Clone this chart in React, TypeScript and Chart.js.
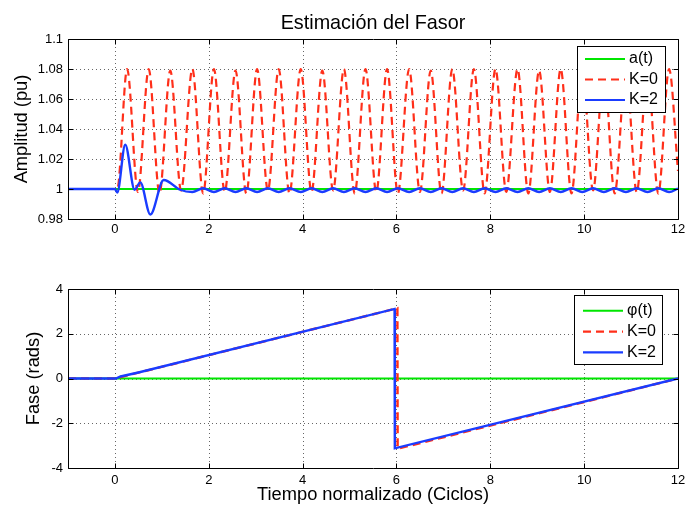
import React, { useEffect, useRef } from "react";
import { Chart, registerables } from "chart.js";

Chart.register(...registerables);

const FONT = "'Liberation Sans', Arial, Helvetica, sans-serif";
const GREEN = "#00e600";
const RED = "#ff2f1a";
const BLUE = "#1a3cff";

// ---- tick values / labels ----
const timeTicks = [0, 2, 4, 6, 8, 10, 12];
const ampTicks = [0.98, 1.0, 1.02, 1.04, 1.06, 1.08, 1.1];
const ampTickLabels = ["0.98", "1", "1.02", "1.04", "1.06", "1.08", "1.1"];
const phaseTicks = [-4, -2, 0, 2, 4];
const phaseTickLabels = ["-4", "-2", "0", "2", "4"];

const ampLegend = ["a(t)", "K=0", "K=2"];
const phaseLegend = ["φ(t)", "K=0", "K=2"];

// ---- amplitude (top) ----
const ampTrueT = [-1, 12];
const ampTrueV = [1, 1];

const ampK0T = [
  -1, 0.05, 0.26, 0.49, 0.72, 0.95, 1.18, 1.41, 1.65, 1.88, 2.11, 2.34, 2.57, 2.8,
  3.03, 3.26, 3.49, 3.72, 3.96, 4.19, 4.42, 4.65, 4.88, 5.11, 5.34, 5.57, 5.8,
  6.03, 6.27, 6.5, 6.73, 6.96, 7.19, 7.42, 7.65, 7.88, 8.11, 8.34, 8.58, 8.81,
  9.04, 9.27, 9.5, 9.73, 9.96, 10.19, 10.42, 10.65, 10.89, 11.12, 11.35, 11.58,
  11.81, 12.0,
];
const ampK0V = [
  1, 1, 1.08, 0.998, 1.08, 0.997, 1.079, 0.999, 1.08, 0.997, 1.08, 0.998, 1.079, 0.997,
  1.08, 0.999, 1.08, 0.997, 1.08, 0.998, 1.079, 0.999, 1.08, 0.997, 1.08, 0.998, 1.08,
  0.997, 1.08, 0.998, 1.079, 0.997, 1.08, 0.999, 1.08, 0.997, 1.08, 0.998, 1.08, 0.997,
  1.079, 0.998, 1.08, 0.997, 1.08, 0.999, 1.08, 0.997, 1.08, 0.998, 1.079, 0.997,
  1.08, 1.012,
];

const ampK2T = [
  -1, 0.0, 0.05, 0.22, 0.42, 0.54, 0.755, 1.04, 1.39,
  1.65, 1.88, 2.11, 2.34, 2.57, 2.8, 3.03, 3.26, 3.49, 3.72, 3.96, 4.19, 4.42, 4.65,
  4.88, 5.11, 5.34, 5.57, 5.8, 6.03, 6.27, 6.5, 6.73, 6.96, 7.19, 7.42, 7.65, 7.88,
  8.11, 8.34, 8.58, 8.81, 9.04, 9.27, 9.5, 9.73, 9.96, 10.19, 10.42, 10.65, 10.89,
  11.12, 11.35, 11.58, 11.81, 12.0,
];
const ampK2V = [
  1, 1, 0.9977, 1.0295, 0.9995, 1.0044, 0.983, 1.006, 0.9995,
  0.998, 1.0005, 0.998, 1.0005, 0.998, 1.0005, 0.998, 1.0005, 0.998, 1.0005, 0.998, 1.0005, 0.998, 1.0005,
  0.998, 1.0005, 0.998, 1.0005, 0.998, 1.0005, 0.998, 1.0005, 0.998, 1.0005, 0.998, 1.0005, 0.998, 1.0005,
  0.998, 1.0005, 0.998, 1.0005, 0.998, 1.0005, 0.998, 1.0005, 0.998, 1.0005, 0.998, 1.0005, 0.998,
  1.0005, 0.998, 1.0005, 0.998, 1.0003,
];

// ---- phase (bottom) ----
const phaseTrueT = [-1, 12];
const phaseTrueV = [0, 0];
const phaseK0T = [-1, 0, 6.02, 6.025, 12];
const phaseK0V = [0, 0, 3.14, -3.14, 0];
const phaseK2T = [-1, 0.02, 0.12, 0.5, 5.96, 5.965, 12];
const phaseK2V = [0, 0, 0.09, 0.27, 3.11, -3.12, 0];

const zip = (t: number[], v: number[]) => t.map((x, i) => ({ x, y: v[i] }));

type Box = { x1: number; y1: number; x2: number; y2: number; lx1: number; lx2: number; tx: number; rows: number[] };

const legendStyles = [
  { color: GREEN, dash: [] as number[], width: 2 },
  { color: RED, dash: [8, 5], width: 2.2 },
  { color: BLUE, dash: [] as number[], width: 2.2 },
];

function framePlugin(xt: number[], yt: number[], labels: string[], box: Box) {
  return {
    id: "frame",
    beforeDatasetsDraw(chart: any) {
      const { ctx, chartArea: a } = chart;
      const sx = chart.scales.x;
      const sy = chart.scales.y;
      ctx.save();
      ctx.strokeStyle = "rgba(0,0,0,0.6)";
      ctx.lineWidth = 1;
      ctx.setLineDash([1, 3]);
      ctx.beginPath();
      xt.forEach((v) => {
        const p = Math.round(sx.getPixelForValue(v)) + 0.5;
        ctx.moveTo(p, a.top);
        ctx.lineTo(p, a.bottom);
      });
      yt.forEach((v) => {
        const p = Math.round(sy.getPixelForValue(v)) + 0.5;
        ctx.moveTo(a.left, p);
        ctx.lineTo(a.right, p);
      });
      ctx.stroke();
      ctx.restore();
    },
    afterDatasetsDraw(chart: any) {
      const { ctx, chartArea: a } = chart;
      const sx = chart.scales.x;
      const sy = chart.scales.y;
      const L = Math.round(a.left) + 0.5;
      const R = Math.round(a.right) + 0.5;
      const T = Math.round(a.top) + 0.5;
      const B = Math.round(a.bottom) + 0.5;
      const tl = 5;
      ctx.save();
      ctx.strokeStyle = "#000";
      ctx.lineWidth = 1;
      ctx.setLineDash([]);
      ctx.beginPath();
      ctx.rect(L, T, R - L, B - T);
      xt.forEach((v) => {
        const p = Math.round(sx.getPixelForValue(v)) + 0.5;
        ctx.moveTo(p, B);
        ctx.lineTo(p, B - tl);
        ctx.moveTo(p, T);
        ctx.lineTo(p, T + tl);
      });
      yt.forEach((v) => {
        const p = Math.round(sy.getPixelForValue(v)) + 0.5;
        ctx.moveTo(L, p);
        ctx.lineTo(L + tl, p);
        ctx.moveTo(R, p);
        ctx.lineTo(R - tl, p);
      });
      ctx.stroke();
      ctx.restore();
    },
    afterDraw(chart: any) {
      const { ctx } = chart;
      ctx.save();
      ctx.fillStyle = "#fff";
      ctx.fillRect(box.x1, box.y1, box.x2 - box.x1, box.y2 - box.y1);
      ctx.strokeStyle = "#000";
      ctx.lineWidth = 1;
      ctx.setLineDash([]);
      ctx.strokeRect(Math.round(box.x1) + 0.5, Math.round(box.y1) + 0.5, Math.round(box.x2 - box.x1), Math.round(box.y2 - box.y1));
      labels.forEach((lab, i) => {
        const st = legendStyles[i];
        const y = box.rows[i];
        ctx.beginPath();
        ctx.strokeStyle = st.color;
        ctx.lineWidth = st.width;
        ctx.setLineDash(st.dash);
        ctx.moveTo(box.lx1, y);
        ctx.lineTo(box.lx2, y);
        ctx.stroke();
        ctx.setLineDash([]);
        ctx.fillStyle = "#000";
        ctx.font = `16px ${FONT}`;
        ctx.textBaseline = "middle";
        ctx.textAlign = "left";
        ctx.fillText(lab, box.tx, y);
      });
      ctx.restore();
    },
  };
}

function xScale(labelPad: number, height: number, title?: any) {
  return {
    type: "linear",
    min: -1,
    max: 12,
    afterBuildTicks: (s: any) => {
      s.ticks = timeTicks.map((v) => ({ value: v }));
    },
    afterFit: (s: any) => {
      s.height = height;
      s.paddingLeft = 0;
      s.paddingRight = 0;
      s.paddingTop = 0;
      s.paddingBottom = 0;
    },
    ticks: {
      autoSkip: false,
      maxRotation: 0,
      minRotation: 0,
      padding: labelPad,
      color: "#000",
      font: { family: FONT, size: 13 },
      callback: (v: number) => String(v),
    },
    grid: { display: false, drawTicks: false },
    border: { display: false },
    title: title || { display: false },
  };
}

function yScale(ticks: number[], tickLabels: string[], min: number, max: number, title: any) {
  return {
    type: "linear",
    min,
    max,
    afterBuildTicks: (s: any) => {
      s.ticks = ticks.map((v) => ({ value: v }));
    },
    afterFit: (s: any) => {
      s.width = 68;
      s.paddingLeft = 0;
      s.paddingRight = 0;
      s.paddingTop = 0;
      s.paddingBottom = 0;
    },
    ticks: {
      autoSkip: false,
      padding: 5,
      color: "#000",
      font: { family: FONT, size: 13 },
      callback: (v: number) => {
        const i = ticks.indexOf(v);
        return i >= 0 ? tickLabels[i] : "";
      },
    },
    grid: { display: false, drawTicks: false },
    border: { display: false },
    title,
  };
}

function ds(label: string, data: any[], color: string, dash: number[], width: number, order: number, smooth: boolean) {
  return {
    label,
    data,
    borderColor: color,
    backgroundColor: color,
    borderWidth: width,
    borderDash: dash,
    pointRadius: 0,
    fill: false,
    order,
    tension: 0,
    cubicInterpolationMode: smooth ? "monotone" : "default",
  };
}

export default function App() {
  const topRef = useRef<HTMLCanvasElement>(null);
  const botRef = useRef<HTMLCanvasElement>(null);

  useEffect(() => {
    const top = new Chart(topRef.current as HTMLCanvasElement, {
      type: "line",
      data: {
        datasets: [
          ds(ampLegend[0], zip(ampTrueT, ampTrueV), GREEN, [], 2, 2, false),
          ds(ampLegend[1], zip(ampK0T, ampK0V), RED, [8, 5], 2.2, 1, true),
          ds(ampLegend[2], zip(ampK2T, ampK2V), BLUE, [], 2.4, 0, true),
        ] as any,
      },
      options: {
        animation: false,
        responsive: false,
        devicePixelRatio: 1,
        events: [],
        layout: { padding: { left: 0, right: 7, top: 0, bottom: 0 } },
        scales: {
          x: xScale(3, 31) as any,
          y: yScale(ampTicks, ampTickLabels, 0.98, 1.1, {
            display: true,
            text: "Amplitud (pu)",
            color: "#000",
            font: { family: FONT, size: 18.3, weight: "normal" },
            padding: { top: 11.2, bottom: 0 },
          }) as any,
        },
        plugins: {
          legend: { display: false },
          tooltip: { enabled: false },
          title: {
            display: true,
            fullSize: false,
            text: "Estimación del Fasor",
            color: "#000",
            font: { family: FONT, size: 19.8, weight: "normal" },
            padding: { top: 11.2, bottom: 4.04 },
          },
        },
      } as any,
      plugins: [
        framePlugin(timeTicks, ampTicks, ampLegend, {
          x1: 577, y1: 46, x2: 665, y2: 112, lx1: 585, lx2: 625, tx: 629, rows: [59, 79.5, 100],
        }) as any,
      ],
    });

    const bot = new Chart(botRef.current as HTMLCanvasElement, {
      type: "line",
      data: {
        datasets: [
          ds(phaseLegend[0], zip(phaseTrueT, phaseTrueV), GREEN, [], 2.2, 2, false),
          ds(phaseLegend[1], zip(phaseK0T, phaseK0V), RED, [8, 5], 2.4, 1, false),
          ds(phaseLegend[2], zip(phaseK2T, phaseK2V), BLUE, [], 2.4, 0, false),
        ] as any,
      },
      options: {
        animation: false,
        responsive: false,
        devicePixelRatio: 1,
        events: [],
        layout: { padding: { left: 0, right: 7, top: 39, bottom: 0 } },
        scales: {
          x: xScale(5, 40, {
            display: true,
            text: "Tiempo normalizado (Ciclos)",
            color: "#000",
            font: { family: FONT, size: 18.3, weight: "normal" },
            padding: { top: 0, bottom: 1.6 },
          }) as any,
          y: yScale(phaseTicks, phaseTickLabels, -4, 4, {
            display: true,
            text: "Fase (rads)",
            color: "#000",
            font: { family: FONT, size: 18.3, weight: "normal" },
            padding: { top: 22.9, bottom: 0 },
          }) as any,
        },
        plugins: {
          legend: { display: false },
          tooltip: { enabled: false },
          title: { display: false },
        },
      } as any,
      plugins: [
        framePlugin(timeTicks, phaseTicks, phaseLegend, {
          x1: 574, y1: 45, x2: 662, y2: 114, lx1: 583, lx2: 623, tx: 627, rows: [60.7, 81.7, 102.3],
        }) as any,
      ],
    });

    return () => {
      top.destroy();
      bot.destroy();
    };
  }, []);

  return (
    <div style={{ position: "absolute", left: 0, top: 0, width: 685, height: 508, background: "#fff" }}>
      <canvas ref={topRef} width={685} height={250} style={{ display: "block", width: 685, height: 250 }} />
      <canvas ref={botRef} width={685} height={258} style={{ display: "block", width: 685, height: 258 }} />
    </div>
  );
}
